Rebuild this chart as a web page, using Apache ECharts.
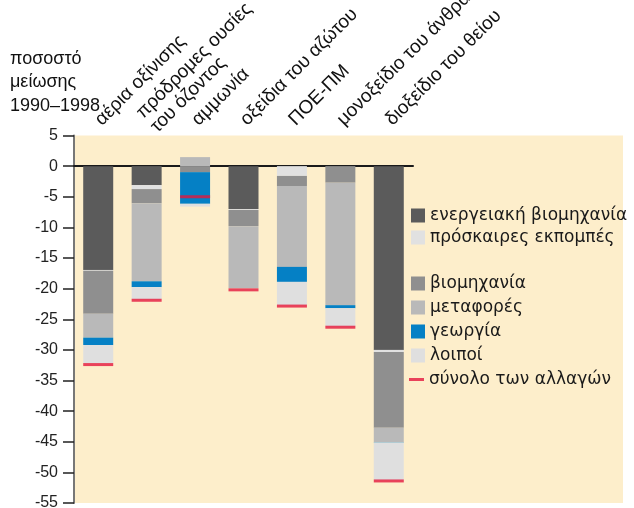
<!DOCTYPE html>
<html>
<head>
<meta charset="utf-8">
<script src="https://cdn.jsdelivr.net/npm/echarts@6/dist/echarts.min.js"></script>
<style>
html,body{margin:0;padding:0;background:#fff;}
#chart{width:634px;height:508px;}
</style>
</head>
<body>
<div id="chart"></div>
<script>
// ---- data ----
const categories = ['αέρια οξίνισης', 'πρόδρομες ουσίες\nτου όζοντος', 'αμμωνία', 'οξείδια του αζώτου', 'ΠΟΕ-ΠΜ', 'μονοξείδιο του άνθρακα', 'διοξείδιο του θείου'];
const energy      = [-16.95, -3.1,  0,     -7.0,   0,     0,     -30.0];
const fugitive    = [-0.15,  -0.65, 0,     -0.15,  -1.6,  0,     -0.35];
const industry    = [-7.0,   -2.3,  -0.98, -2.65,  -1.65, -2.7,  -12.35];
const transport   = [-3.9,   -12.75, 1.47, -10.15, -13.2, -20.0, -2.35];
const agriculture = [-1.2,   -0.95, -5.17, 0,      -2.45, -0.5,  -0.08];
const others      = [-3.0,   -2.0,  -0.45, 0,      -3.8,  -3.0,  -6.15];
const totals      = [-32.4,  -21.9, -5.0,  -20.2,  -22.85, -26.3, -51.4];
const yTicks = { min: -55, max: 5, interval: 5 };
const seriesNames = ['ενεργειακή βιομηχανία', 'πρόσκαιρες εκπομπές', 'βιομηχανία', 'μεταφορές', 'γεωργία', 'λοιποί', 'σύνολο των αλλαγών'];

const FONT = 'Liberation Sans, Arial, sans-serif';
const LEGEND_FONT = 'DejaVu Sans, sans-serif';
const colors = ['#5b5b5b', '#e1e1e1', '#8f8f8f', '#b9b9b9', '#0580c5', '#dfdfdf'];
const stacks = [energy, fugitive, industry, transport, agriculture, others];

const chart = echarts.init(document.getElementById('chart'), null, {renderer: 'canvas'});

const barSeries = stacks.map((d, i) => ({
  name: seriesNames[i],
  type: 'bar',
  stack: 'all',
  stackStrategy: 'samesign',
  barWidth: 30,
  data: d,
  itemStyle: { color: colors[i] },
  emphasis: { disabled: true },
  animation: false
}));

const legendText = { fontSize: 17, color: '#1a1a1a', fontFamily: LEGEND_FONT };

chart.setOption({
  animation: false,
  textStyle: { fontFamily: FONT },
  title: {
    text: 'ποσοστό\nμείωσης\n1990–1998',
    left: 10, top: 47, padding: 0,
    textStyle: { fontSize: 18, lineHeight: 23.5, fontWeight: 'normal', color: '#111', fontFamily: FONT }
  },
  graphic: [{
    type: 'rect', z: -10, silent: true,
    shape: { x: 74, y: 135.5, width: 549, height: 367.5 },
    style: { fill: '#fdeecb' }
  }],
  grid: { left: 74, right: 221, top: 135.5, bottom: 5, containLabel: false, outerBoundsMode: 'none' },
  legend: [
    { data: seriesNames.slice(0, 2), orient: 'vertical', left: 411, top: 207, padding: 0,
      itemWidth: 14, itemHeight: 14, itemGap: 5, icon: 'rect', textStyle: legendText, selectedMode: false },
    { data: seriesNames.slice(2, 6), orient: 'vertical', left: 411, top: 275, padding: 0,
      itemWidth: 14, itemHeight: 14, itemGap: 7, icon: 'rect', textStyle: legendText, selectedMode: false },
    { data: [seriesNames[6]], orient: 'vertical', left: 409, top: 371, padding: 0,
      itemWidth: 15, itemHeight: 3, icon: 'rect', textStyle: legendText, selectedMode: false }
  ],
  xAxis: [
    { type: 'category', data: categories, position: 'bottom',
      axisLine: { onZero: true, lineStyle: { color: '#1a1a1a', width: 2 } },
      axisTick: { show: false }, axisLabel: { show: false }, splitLine: { show: false } },
    { type: 'category', data: categories, position: 'top',
      axisLine: { show: false }, axisTick: { show: false }, splitLine: { show: false },
      axisLabel: { interval: 0, rotate: -45, margin: 13, fontSize: 19, lineHeight: 20,
        color: '#111', fontFamily: FONT } }
  ],
  yAxis: {
    type: 'value', min: yTicks.min, max: yTicks.max, interval: yTicks.interval,
    axisLine: { show: true, lineStyle: { color: '#777', width: 2 } },
    axisTick: { show: true, length: 11, inside: false, lineStyle: { color: '#222', width: 1.5 } },
    axisLabel: { fontSize: 16, color: '#222', margin: 16, fontFamily: FONT },
    splitLine: { show: false }
  },
  series: [
    ...barSeries,
    { name: seriesNames[6], type: 'scatter', data: totals, symbol: 'rect', symbolSize: [30, 3],
      itemStyle: { color: '#e3173d' }, z: 5, emphasis: { disabled: true } }
  ]
});
</script>
</body>
</html>
